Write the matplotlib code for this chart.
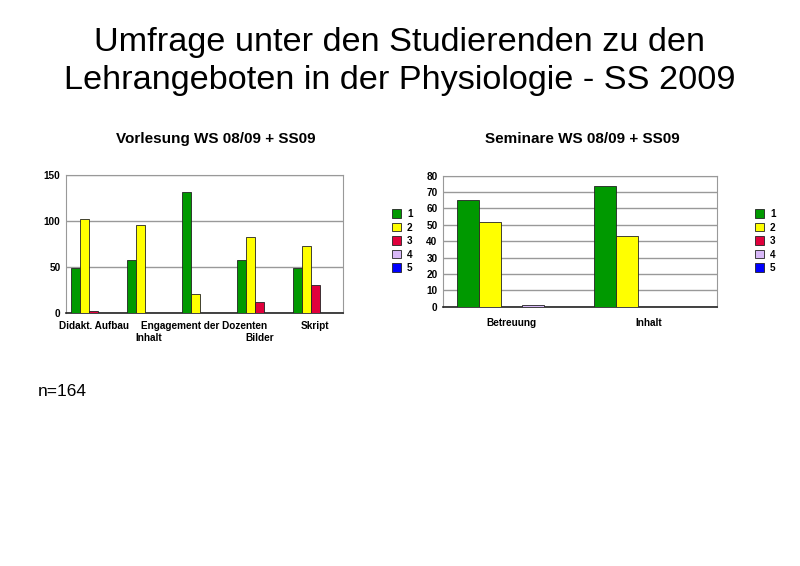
import matplotlib.pyplot as plt
import numpy as np
from matplotlib.patches import Patch

plt.rcParams["font.family"] = ["Liberation Sans", "DejaVu Sans"]

LEGEND_LABELS = ["1", "2", "3", "4", "5"]
COLORS = ["#009900", "#ffff00", "#e0003c", "#d8b8f8", "#0000ff"]

VL_CATEGORIES = ["Didakt. Aufbau", "Inhalt", "Engagement der Dozenten", "Bilder", "Skript"]
VL_1 = [49, 57, 132, 57, 49]
VL_2 = [102, 96, 20, 83, 73]
VL_3 = [1.5, 0, 0, 12, 30]
VL_4 = [0, 0, 0, 0, 0]
VL_5 = [0, 0, 0, 0, 0]

SEM_CATEGORIES = ["Betreuung", "Inhalt"]
SEM_1 = [65, 74]
SEM_2 = [52, 43]
SEM_3 = [0, 0]
SEM_4 = [1, 0]
SEM_5 = [0, 0]


def draw_groups(ax, series, n_groups, bar_w):
    x = np.arange(n_groups)
    for i, values in enumerate(series):
        offs = (i - 2) * bar_w
        heights = np.array(values, dtype=float)
        mask = heights > 0
        ax.bar(x[mask] + offs, heights[mask], width=bar_w, color=COLORS[i],
               edgecolor="#222222", linewidth=0.6, zorder=3)
    ax.set_xlim(-0.5, n_groups - 0.5)
    ax.grid(True, axis="y", color="#999999", linewidth=1.0, zorder=0)
    for side in ["top", "right", "left"]:
        ax.spines[side].set_color("#999999")
    ax.spines["bottom"].set_color("#222222")
    ax.spines["bottom"].set_linewidth(1.2)
    ax.tick_params(axis="both", length=0, labelsize=7.2, pad=4)
    for lab in ax.get_yticklabels():
        lab.set_fontweight("bold")


fig = plt.figure(figsize=(8, 5.66), dpi=100)

fig.text(0.5, 1 - 51 / 566, "Umfrage unter den Studierenden zu den",
         ha="center", va="baseline", fontsize=24.7)
fig.text(0.5, 1 - 89.5 / 566, "Lehrangeboten in der Physiologie - SS 2009",
         ha="center", va="baseline", fontsize=24.7)

# Vorlesung
ax1 = fig.add_axes([66 / 800, 1 - 312.7 / 566, 277 / 800, 137.7 / 566])
draw_groups(ax1, [VL_1, VL_2, VL_3, VL_4, VL_5], len(VL_CATEGORIES), 0.163)
ax1.set_ylim(0, 150)
ax1.set_yticks([0, 50, 100, 150])
ax1.set_xticks([])
for i, cat in enumerate(VL_CATEGORIES):
    y_off = -0.095 if i % 2 == 0 else -0.185
    ax1.text(i, y_off, cat, transform=ax1.get_xaxis_transform(), ha="center",
             va="center", fontsize=7.2, fontweight="bold")
fig.text(216 / 800, 1 - 139 / 566, "Vorlesung WS 08/09 + SS09", ha="center",
         va="center", fontsize=11, fontweight="bold")

# Seminare
ax2 = fig.add_axes([443 / 800, 1 - 306.7 / 566, 274 / 800, 131 / 566])
draw_groups(ax2, [SEM_1, SEM_2, SEM_3, SEM_4, SEM_5], len(SEM_CATEGORIES), 0.16)
ax2.set_ylim(0, 80)
ax2.set_yticks(range(0, 81, 10))
ax2.set_xticks(range(len(SEM_CATEGORIES)))
ax2.set_xticklabels(SEM_CATEGORIES, fontsize=7.2, fontweight="bold")
ax2.tick_params(axis="x", pad=8)
fig.text(582 / 800, 1 - 139 / 566, "Seminare WS 08/09 + SS09", ha="center",
         va="center", fontsize=11, fontweight="bold")

handles = [Patch(facecolor=c, edgecolor="#222222", linewidth=0.6) for c in COLORS]
for lx in [383 / 800, 746 / 800]:
    fig.legend(handles, LEGEND_LABELS, loc="upper left",
               bbox_to_anchor=(lx, 1 - 200 / 566), frameon=False,
               handlelength=0.9, handleheight=0.9, handletextpad=0.6,
               labelspacing=0.35, prop={"size": 7.2, "weight": "bold"})

fig.text(38 / 800, 1 - 391 / 566, "n=164", ha="left", va="center", fontsize=12.5)

fig.savefig("out.png", dpi=100)
